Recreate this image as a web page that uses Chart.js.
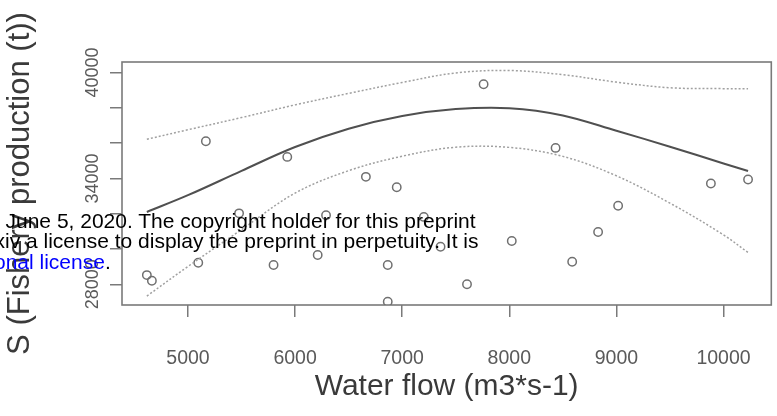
<!DOCTYPE html>
<html><head><meta charset="utf-8">
<script src="https://cdn.jsdelivr.net/npm/chart.js@4"></script>
<style>
html,body{margin:0;padding:0;background:#fff;overflow:hidden;}
#wrap{position:relative;width:777px;height:416px;overflow:hidden;background:#fff;}
#c{position:absolute;left:0;top:0;}
.wm{position:absolute;font-family:'Liberation Sans',Arial,sans-serif;font-size:21px;line-height:21px;color:#000;white-space:nowrap;z-index:2;}
.wm span.l{color:#00f;}
</style></head><body>
<div id="wrap">
<canvas id="c" width="777" height="416"></canvas>
<div class="wm" style="left:-12px;top:210px">d June 5, 2020. The copyright holder for this preprint</div>
<div class="wm" style="left:-5.5px;top:229.5px">xiv a license to display the preprint in perpetuity. It is</div>
<div class="wm" style="left:-6px;top:251px"><span class="l">onal license</span>.</div>
</div>
<script>
// observed points
const flow = [4616, 4663, 5096, 5167, 5477, 5799, 5927, 6211, 6289, 6661, 6865, 6865, 6949, 7202, 7358, 7605, 7760, 8023, 8432, 8587, 8829, 9016, 9882, 10229];
const production = [28520, 28200, 29220, 36110, 32020, 29090, 35220, 29660, 31920, 34090, 29090, 27010, 33500, 31820, 30130, 28000, 39340, 30450, 35730, 29280, 30960, 32450, 33710, 33940];
// fitted curve and confidence band
const curveFlow = [4616, 5000, 5500, 6000, 6500, 7000, 7500, 8000, 8500, 9000, 9500, 10000, 10229];
const fitProd   = [32100, 33050, 34430, 35780, 36820, 37540, 37930, 37980, 37570, 36700, 35800, 34850, 34420];
const upperProd = [36220, 36760, 37450, 38170, 38820, 39440, 39980, 40120, 39880, 39460, 39140, 39090, 39090];
const lowerProd = [27330, 29010, 31100, 33170, 34440, 35260, 35770, 35760, 35250, 34150, 32600, 30800, 29800];
// axis ticks
const xTicks = [5000, 6000, 7000, 8000, 9000, 10000];
const yTicks = [28000, 30000, 32000, 34000, 36000, 38000, 40000];
const yLabelled = [28000, 34000, 40000];
const xTitle = 'Water flow (m3*s-1)';
const yTitle = 'S (Fishery production (t))';

const toXY = (xs, ys) => xs.map((x, i) => ({x: x, y: ys[i]}));

const boxPlugin = {
  id: 'box',
  beforeDatasetsDraw(chart) {
    const a = chart.chartArea, ctx = chart.ctx;
    ctx.save();
    ctx.strokeStyle = '#7a7a7a';
    ctx.lineWidth = 1.6;
    ctx.strokeRect(a.left, a.top, a.right - a.left, a.bottom - a.top);
    ctx.restore();
  }
};

const fam = "'Liberation Sans',Arial,sans-serif";
const xTickFont = {family: fam, size: 19.5};
const yTickFont = {family: fam, size: 18};
const titleFont = {family: fam, size: 30};
const yTitleFont = {family: fam, size: 31};

new Chart(document.getElementById('c'), {
  type: 'scatter',
  data: {
    datasets: [
      {data: toXY(curveFlow, upperProd), showLine: true, pointRadius: 0, borderColor: '#a0a0a0', borderWidth: 1.5, borderDash: [2, 2], tension: 0.35, fill: false},
      {data: toXY(curveFlow, lowerProd), showLine: true, pointRadius: 0, borderColor: '#a0a0a0', borderWidth: 1.5, borderDash: [2, 2], tension: 0.35, fill: false},
      {data: toXY(curveFlow, fitProd), showLine: true, pointRadius: 0, borderColor: '#505050', borderWidth: 2, tension: 0.35, fill: false},
      {data: toXY(flow, production), showLine: false, pointRadius: 4.2, pointBorderWidth: 1.5, pointBorderColor: '#707070', pointBackgroundColor: 'rgba(0,0,0,0)', pointStyle: 'circle'}
    ]
  },
  options: {
    responsive: false,
    animation: false,
    devicePixelRatio: 1,
    layout: {padding: {top: 62, right: 3, left: 0, bottom: 0}},
    plugins: {legend: {display: false}, tooltip: {enabled: false}},
    scales: {
      x: {
        type: 'linear', min: 4384, max: 10446,
        afterBuildTicks: s => { s.ticks = xTicks.map(v => ({value: v})); },
        afterFit: s => { s.height = 111; s.paddingLeft = 0; s.paddingRight = 0; },
        grid: {display: true, drawOnChartArea: false, drawTicks: true, tickLength: 12, color: '#7a7a7a', lineWidth: 1.5},
        border: {display: false},
        ticks: {autoSkip: false, maxRotation: 0, minRotation: 0, padding: 30, color: '#5a5a5a', font: xTickFont, callback: v => String(v)},
        title: {display: true, text: xTitle, color: '#3a3a3a', font: titleFont, padding: {top: 0, bottom: 11}}
      },
      y: {
        type: 'linear', min: 26826, max: 40600,
        afterBuildTicks: s => { s.ticks = yTicks.map(v => ({value: v})); },
        afterFit: s => { s.width = 122; s.paddingTop = 0; s.paddingBottom = 0; },
        grid: {display: true, drawOnChartArea: false, drawTicks: true, tickLength: 12, color: '#7a7a7a', lineWidth: 1.5},
        border: {display: false},
        ticks: {autoSkip: false, minRotation: 90, maxRotation: 90, crossAlign: 'center', padding: -8, color: '#5a5a5a', font: yTickFont,
                callback: v => yLabelled.includes(v) ? String(v) : ''},
        title: {display: true, text: yTitle, color: '#3a3a3a', font: yTitleFont, padding: {top: 2, bottom: 0}}
      }
    }
  },
  plugins: [boxPlugin]
});
</script>
</body></html>
